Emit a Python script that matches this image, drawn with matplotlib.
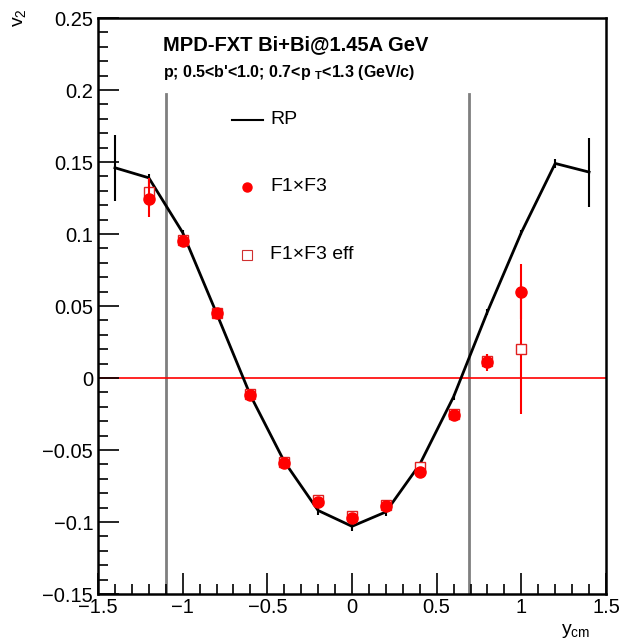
import matplotlib
matplotlib.use("Agg")
import matplotlib.pyplot as plt
from matplotlib.ticker import MultipleLocator

plt.rcParams["font.family"] = ["Liberation Sans", "DejaVu Sans"]
plt.rcParams["mathtext.fontset"] = "custom"
plt.rcParams["mathtext.rm"] = "Liberation Sans"
plt.rcParams["mathtext.bf"] = "Liberation Sans:bold"
plt.rcParams["mathtext.default"] = "regular"

# RP (reaction plane) v2 vs rapidity
y_rp = [-1.4, -1.2, -1.0, -0.8, -0.6, -0.4, -0.2, 0.0, 0.2, 0.4, 0.6, 0.8, 1.0, 1.2, 1.4]
v2_rp = [0.146, 0.139, 0.101, 0.045, -0.012, -0.058, -0.092, -0.103, -0.093, -0.060,
         -0.013, 0.046, 0.101, 0.149, 0.143]
err_rp = [0.023, 0.003, 0.002, 0.002, 0.002, 0.002, 0.003, 0.003, 0.003, 0.002,
          0.002, 0.002, 0.002, 0.003, 0.024]

# F1xF3 (filled circles)
y_f = [-1.2, -1.0, -0.8, -0.6, -0.4, -0.2, 0.0, 0.2, 0.4, 0.6, 0.8, 1.0]
v2_f = [0.124, 0.095, 0.045, -0.012, -0.059, -0.086, -0.097, -0.089, -0.065, -0.026, 0.011, 0.060]
err_f = [0.012, 0.003, 0.003, 0.003, 0.003, 0.003, 0.003, 0.003, 0.003, 0.003, 0.006, 0.019]

# F1xF3 eff (open squares)
v2_eff = [0.129, 0.096, 0.045, -0.011, -0.058, -0.085, -0.096, -0.088, -0.062, -0.025, 0.012, 0.020]
err_eff = [0.010, 0.003, 0.003, 0.003, 0.003, 0.003, 0.003, 0.003, 0.003, 0.003, 0.005, 0.045]

# acceptance boundaries
y_cuts = [-1.1, 0.69]
cut_top = 0.197

fig = plt.figure(figsize=(6.24, 6.44), dpi=100)
ax = fig.add_axes([98 / 624, 1 - 594 / 644, 508 / 624, 576 / 644])

ax.set_xlim(-1.5, 1.5)
ax.set_ylim(-0.15, 0.25)

for yc in y_cuts:
    ax.plot([yc, yc], [-0.15, cut_top], color="#7f7f7f", lw=2, zorder=1)
ax.axhline(0, color="red", lw=1.2, zorder=1)

ax.errorbar(y_rp, v2_rp, yerr=err_rp, color="black", lw=2, elinewidth=1.5,
            capsize=0, zorder=3)
ax.errorbar(y_f, v2_eff, yerr=err_eff, fmt="s", mfc="white", mec="#e02020",
            ecolor="red", ms=7.5, mew=1.0, elinewidth=1.5, capsize=0, zorder=4)
ax.errorbar(y_f, v2_f, yerr=err_f, fmt="o", color="red", ms=8,
            elinewidth=1.5, capsize=0, zorder=5)

# legend drawn by hand
ax.plot([0.264, 0.325], [0.823, 0.823], color="black", lw=1.5, transform=ax.transAxes)
ax.text(0.339, 0.823, "RP", transform=ax.transAxes, fontsize=14, va="center")
ax.plot([0.293], [0.707], "o", color="red", ms=6.5, transform=ax.transAxes)
ax.text(0.339, 0.707, "F1×F3", transform=ax.transAxes, fontsize=14, va="center")
ax.plot([0.293], [0.589], "s", mfc="white", mec="#d03030", ms=6.5, mew=0.8,
        transform=ax.transAxes)
ax.text(0.339, 0.589, "F1×F3 eff", transform=ax.transAxes, fontsize=14, va="center")

ax.text(0.128, 0.953, "MPD-FXT Bi+Bi@1.45A GeV", transform=ax.transAxes,
        fontsize=14.5, fontweight="bold", va="center")
ax.text(0.128, 0.905, r"p; 0.5<b'<1.0; 0.7<p $_{\mathbf{T}}$<1.3 (GeV/c)",
        transform=ax.transAxes, fontsize=11.5, fontweight="bold", va="center")

# ROOT-like axes
ax.xaxis.set_major_locator(MultipleLocator(0.5))
ax.xaxis.set_minor_locator(MultipleLocator(0.1))
ax.yaxis.set_major_locator(MultipleLocator(0.05))
ax.yaxis.set_minor_locator(MultipleLocator(0.01))
ax.tick_params(which="both", direction="in", top=False, right=False, labelsize=14.5,
               width=1.2)
ax.tick_params(which="major", length=15)
ax.tick_params(which="minor", length=7.5)
ax.tick_params(axis="x", pad=3)
ax.set_yticks([-0.15, -0.1, -0.05, 0, 0.05, 0.1, 0.15, 0.2, 0.25])
ax.set_yticklabels(["\u22120.15", "\u22120.1", "\u22120.05", "0", "0.05", "0.1",
                    "0.15", "0.2", "0.25"])
ax.set_xticks([-1.5, -1, -0.5, 0, 0.5, 1, 1.5])
ax.set_xticklabels(["\u22121.5", "\u22121", "\u22120.5", "0", "0.5", "1", "1.5"])
for s in ax.spines.values():
    s.set_linewidth(1.8)

fig.text(20 / 624, 1 - 8 / 644, r"v$_2$", rotation=90, fontsize=14,
         ha="center", va="top")
fig.text(590 / 624, 1 - 640 / 644, r"y$_{cm}$", fontsize=14, ha="right", va="bottom")

fig.savefig("out.png", dpi=100)
